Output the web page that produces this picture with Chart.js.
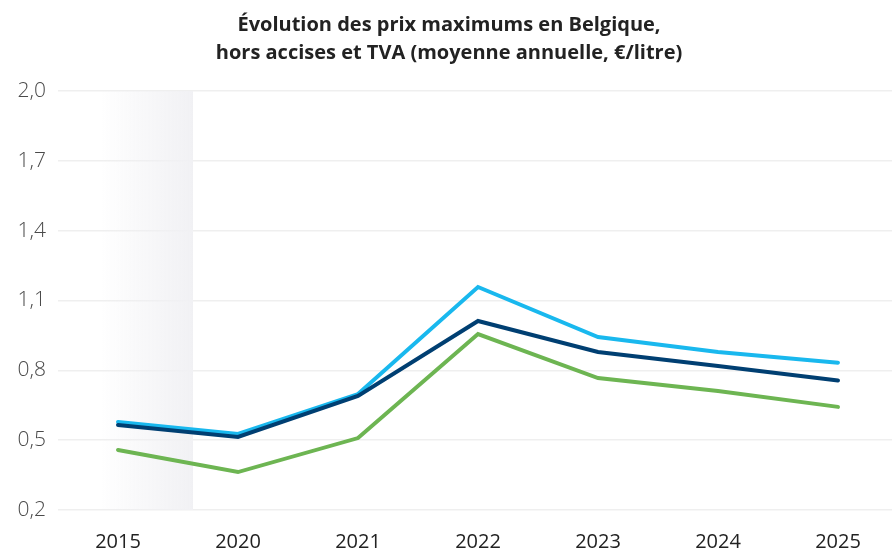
<!DOCTYPE html>
<html lang="fr">
<head>
<meta charset="utf-8">
<title>Évolution des prix maximums en Belgique</title>
<script src="https://cdn.jsdelivr.net/npm/chart.js@4"></script>
<style>
  html, body { margin: 0; padding: 0; background: #fff; overflow: hidden; }
  #wrap { width: 898px; height: 550px; }
</style>
</head>
<body>
<div id="wrap"><canvas id="chart" width="898" height="550"></canvas></div>
<script>
'use strict';

/* ------------------------------------------------------------
   Data
   ------------------------------------------------------------ */
const years      = ['2015', '2020', '2021', '2022', '2023', '2024', '2025'];
const seriesLight = [0.578, 0.527, 0.698, 1.158, 0.943, 0.879, 0.833];
const seriesNavy  = [0.565, 0.514, 0.690, 1.012, 0.879, 0.819, 0.756];
const seriesGreen = [0.458, 0.363, 0.509, 0.956, 0.767, 0.711, 0.643];
const yTicks     = [0.2, 0.5, 0.8, 1.1, 1.4, 1.7, 2.0];
const titleLines = ['Évolution des prix maximums en Belgique,',
                    'hors accises et TVA (moyenne annuelle, €/litre)'];

const FONT = "'Open Sans', 'Noto Sans', sans-serif";

/* Gray fading band behind the first category (break in the time axis) */
const bandPlugin = {
  id: 'band',
  beforeDatasetsDraw(chart) {
    const { ctx, chartArea, scales } = chart;
    const p0 = scales.x.getPixelForValue(0);
    const p1 = scales.x.getPixelForValue(1);
    const step = p1 - p0;
    const left  = p0 - step * 0.15;
    const right = p0 + step * 0.625;
    const grad = ctx.createLinearGradient(left, 0, right, 0);
    grad.addColorStop(0, 'rgba(240,240,243,0)');
    grad.addColorStop(1, 'rgba(241,241,244,1)');
    ctx.save();
    ctx.fillStyle = grad;
    ctx.fillRect(left, chartArea.top, right - left, chartArea.bottom - chartArea.top);
    ctx.restore();
  }
};

function line(label, data, color, order) {
  return {
    label, data, order,
    borderColor: color,
    borderWidth: 4,
    pointRadius: 0,
    tension: 0,
    fill: false,
    borderCapStyle: 'round',
    borderJoinStyle: 'miter'
  };
}

new Chart(document.getElementById('chart'), {
  type: 'line',
  data: {
    labels: years,
    datasets: [
      line('Navy', seriesNavy, '#003f72', 0),
      line('Light', seriesLight, '#19b8ee', 1),
      line('Green', seriesGreen, '#6db552', 2)
    ]
  },
  plugins: [bandPlugin],
  options: {
    responsive: false,
    animation: false,
    layout: { padding: { top: 11, bottom: 0, left: 0, right: 0 } },
    plugins: {
      legend: { display: false },
      tooltip: { enabled: false },
      title: {
        display: true,
        text: titleLines,
        color: '#222',
        font: { family: FONT, size: 20, weight: '700', lineHeight: 1.4 },
        padding: { top: 0, bottom: 24 },
        align: 'center',
        fullSize: true
      }
    },
    scales: {
      x: {
        offset: true,
        afterFit(scale) { scale.height = 40; },
        grid: { display: false },
        border: { display: false },
        ticks: {
          color: '#222',
          font: { family: FONT, size: 20 },
          padding: 12,
          maxRotation: 0
        }
      },
      y: {
        min: 0.2,
        max: 2.0,
        afterBuildTicks(scale) {
          scale.ticks = yTicks.map(v => ({ value: v }));
        },
        afterFit(scale) { scale.width = 58; },
        grid: { color: '#efefef', lineWidth: 1.5, drawTicks: false },
        border: { display: false },
        ticks: {
          color: '#4a4a4a',
          font: { family: FONT, size: 21, weight: '300' },
          crossAlign: 'near',
          padding: 12,
          callback: v => v.toFixed(1).replace('.', ',')
        }
      }
    }
  }
});
</script>
</body>
</html>
